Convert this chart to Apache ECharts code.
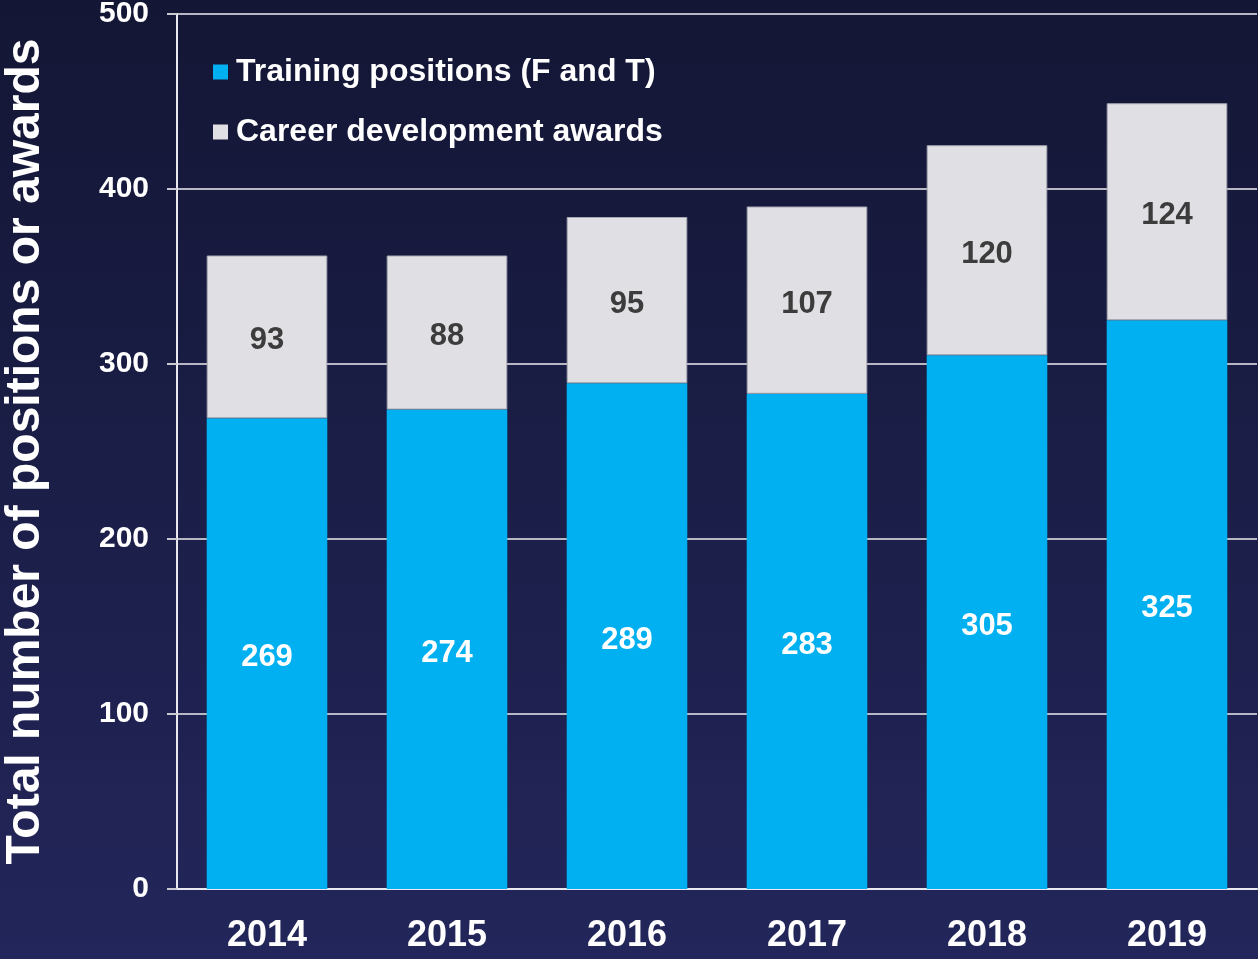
<!DOCTYPE html>
<html>
<head>
<meta charset="utf-8">
<script src="https://cdn.jsdelivr.net/npm/echarts@6/dist/echarts.min.js"></script>
<style>
  html, body { margin: 0; padding: 0; }
  #chart { width: 1258px; height: 959px; }
</style>
</head>
<body>
<div id="chart"></div>
<script>
// Values
const years = ['2014', '2015', '2016', '2017', '2018', '2019']
const training = [269, 274, 289, 283, 305, 325]
const career = [93, 88, 95, 107, 120, 124]
const yTicks = { min: 0, max: 500, interval: 100 }

const font = '"Liberation Sans", Arial, sans-serif'

const chart = echarts.init(document.getElementById('chart'))

const option = {
  backgroundColor: new echarts.graphic.LinearGradient(0, 0, 0, 1, [
    { offset: 0, color: '#131634' },
    { offset: 1, color: '#23265a' }
  ]),
  textStyle: { fontFamily: font },
  legend: {
    orient: 'vertical',
    left: 208,
    top: 51,
    itemWidth: 15,
    itemHeight: 15,
    itemGap: 28,
    icon: 'rect',
    itemStyle: { borderWidth: 0 },
    textStyle: { color: '#ffffff', fontSize: 32, fontWeight: 'bold', fontFamily: font, padding: [0, 0, 0, 3] },
    data: ['Training positions (F and T)', 'Career development awards']
  },
  grid: { left: 177, right: 1, top: 14, bottom: 70, outerBoundsMode: 'none', containLabel: false },
  xAxis: {
    type: 'category',
    data: years,
    axisLine: { lineStyle: { color: '#e8e8ee', width: 2 } },
    axisTick: { show: false },
    axisLabel: { color: '#ffffff', fontSize: 36, fontWeight: 'bold', fontFamily: font, margin: 29 }
  },
  yAxis: {
    type: 'value',
    min: yTicks.min,
    max: yTicks.max,
    interval: yTicks.interval,
    name: 'Total number of positions or awards',
    nameLocation: 'middle',
    nameRotate: 90,
    nameGap: 127,
    nameTextStyle: { color: '#ffffff', fontSize: 48, fontWeight: 'bold', fontFamily: font },
    axisLine: { show: true, lineStyle: { color: '#e8e8ee', width: 2 } },
    axisTick: { show: true, length: 10, lineStyle: { color: '#c8c8d0', width: 2 } },
    axisLabel: { color: '#ffffff', fontSize: 30, fontWeight: 'bold', fontFamily: font, margin: 28 },
    splitLine: { lineStyle: { color: '#b8b8c4', width: 2 } }
  },
  series: [
    {
      name: 'Training positions (F and T)',
      type: 'bar',
      stack: 'total',
      barWidth: '67%',
      data: training,
      itemStyle: { color: '#00b0f0' },
      label: { show: true, position: 'inside', offset: [0, 4], color: '#ffffff', fontSize: 31, fontWeight: 'bold', fontFamily: font }
    },
    {
      name: 'Career development awards',
      type: 'bar',
      stack: 'total',
      barWidth: '67%',
      data: career,
      itemStyle: { color: '#e0dfe3', borderColor: '#a8a8b4', borderWidth: 1 },
      label: { show: true, position: 'inside', offset: [0, 4], color: '#3c3c3c', fontSize: 31, fontWeight: 'bold', fontFamily: font }
    }
  ]
}

chart.setOption(option)
</script>
</body>
</html>
